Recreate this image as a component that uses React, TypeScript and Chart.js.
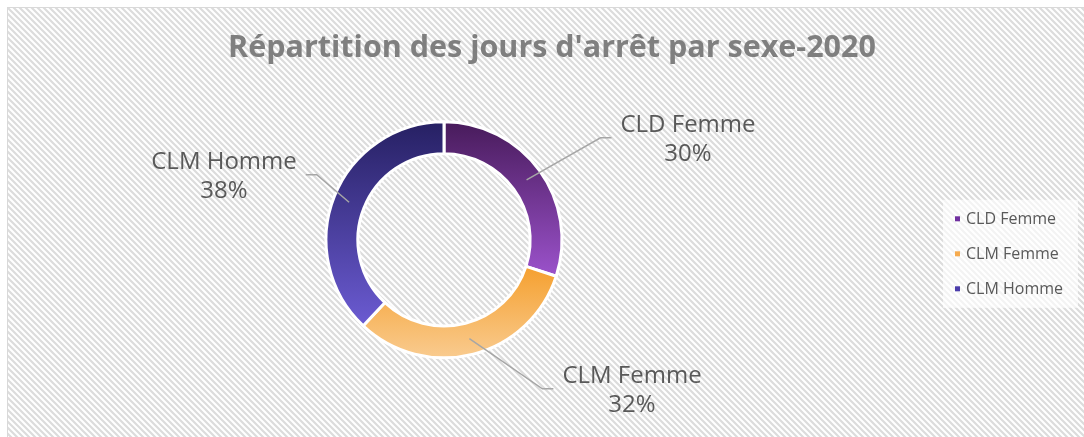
import React, { useEffect, useRef } from 'react';
import { Chart, registerables, layouts } from 'chart.js';

Chart.register(...registerables);

// ---------- data ----------
const TITLE = "Répartition des jours d'arrêt par sexe-2020";
const categories = ['CLD Femme', 'CLM Femme', 'CLM Homme'];
const shares = [30, 32, 38];

// ---------- styles ----------
const gradientTop = ['#481b5b', '#f5a02f', '#262063'];
const gradientBottom = ['#9b52cb', '#f9cb8f', '#6b5bd2'];
const legendColors = ['#7030a0', '#f6ab4f', '#4b3cab'];
const TEXT = '#595959';
const FONT = "'Open Sans', 'DejaVu Sans', sans-serif";

// label centre offset from the donut centre (placement, like Office's moved labels)
const labelOffsets: [number, number][] = [
  [244, -100],
  [188, 151],
  [-220, -63],
];

const LEGEND_WIDTH = 216;

let hatch: CanvasPattern | null = null;
function getHatch(ctx: CanvasRenderingContext2D) {
  if (hatch) return hatch;
  const t = document.createElement('canvas');
  t.width = 6;
  t.height = 6;
  const g = t.getContext('2d')!;
  g.fillStyle = '#ffffff';
  g.fillRect(0, 0, 6, 6);
  g.strokeStyle = '#dcdcdc';
  g.lineWidth = 2.2;
  g.beginPath();
  g.moveTo(-1, -1);
  g.lineTo(7, 7);
  g.moveTo(-1, 5);
  g.lineTo(1, 7);
  g.moveTo(5, -1);
  g.lineTo(7, 1);
  g.stroke();
  hatch = ctx.createPattern(t, 'repeat');
  return hatch;
}

const backgroundPlugin = {
  id: 'bgFrame',
  beforeDraw(chart: any) {
    const { ctx, width, height } = chart;
    ctx.save();
    ctx.fillStyle = '#ffffff';
    ctx.fillRect(0, 0, width, height);
    ctx.fillStyle = getHatch(ctx) as any;
    ctx.fillRect(7, 7, width - 7, height - 7);
    ctx.strokeStyle = '#d9d9d9';
    ctx.lineWidth = 1;
    ctx.beginPath();
    ctx.moveTo(7.5, height);
    ctx.lineTo(7.5, 7.5);
    ctx.lineTo(width, 7.5);
    ctx.stroke();
    ctx.restore();
  },
};

function arcGradient(c: any) {
  const i = c.dataIndex;
  if (i === undefined) return gradientTop[0];
  const chart = c.chart;
  const area = chart.chartArea;
  if (!area) return gradientTop[i];
  const ctrl: any = chart.getDatasetMeta(c.datasetIndex).controller;
  const R = ctrl.outerRadius || 118;
  const r = ctrl.innerRadius || 86;
  const cy = (area.top + area.bottom) / 2 + (ctrl.offsetY || 0);
  const data: number[] = c.dataset.data;
  const total = data.reduce((a, b) => a + b, 0);
  let before = 0;
  for (let k = 0; k < i; k++) before += data[k];
  const start = -Math.PI / 2 + (2 * Math.PI * before) / total;
  const end = start + (2 * Math.PI * data[i]) / total;
  let minY = Infinity;
  let maxY = -Infinity;
  for (let k = 0; k <= 90; k++) {
    const a = start + ((end - start) * k) / 90;
    for (const rad of [R, r]) {
      const y = cy + Math.sin(a) * rad;
      minY = Math.min(minY, y);
      maxY = Math.max(maxY, y);
    }
  }
  const g = chart.ctx.createLinearGradient(0, minY, 0, maxY);
  g.addColorStop(0, gradientTop[i]);
  g.addColorStop(1, gradientBottom[i]);
  return g;
}

const labelPlugin = {
  id: 'outLabels',
  afterDatasetsDraw(chart: any) {
    const { ctx } = chart;
    const meta = chart.getDatasetMeta(0);
    const data: number[] = chart.data.datasets[0].data;
    const total = data.reduce((a, b) => a + b, 0);
    ctx.save();
    ctx.font = `24px ${FONT}`;
    ctx.textAlign = 'center';
    ctx.textBaseline = 'middle';
    meta.data.forEach((arc: any, i: number) => {
      const p = arc.getProps(['x', 'y', 'startAngle', 'endAngle', 'innerRadius', 'outerRadius'], true);
      const mid = (p.startAngle + p.endAngle) / 2;
      const rm = (p.innerRadius + p.outerRadius) / 2;
      const ax = p.x + Math.cos(mid) * rm;
      const ay = p.y + Math.sin(mid) * rm;
      const lx = p.x + labelOffsets[i][0];
      const ly = p.y + labelOffsets[i][1];
      const name = chart.data.labels[i];
      const pct = Math.round((data[i] / total) * 100) + '%';
      const w = Math.max(ctx.measureText(name).width, ctx.measureText(pct).width);
      const right = labelOffsets[i][0] > 0;
      const endX = right ? lx - w / 2 - 9 : lx + w / 2 + 9;
      const elbowX = right ? endX - 11 : endX + 11;
      const lineY = ly - 2;
      ctx.strokeStyle = '#a6a6a6';
      ctx.lineWidth = 1.5;
      ctx.beginPath();
      ctx.moveTo(ax, ay);
      ctx.lineTo(elbowX, lineY);
      ctx.lineTo(endX, lineY);
      ctx.stroke();
      ctx.fillStyle = TEXT;
      ctx.fillText(name, lx, ly - 14.5);
      ctx.fillText(pct, lx, ly + 14.5);
    });
    ctx.restore();
  },
};

const legendBoxPlugin = {
  id: 'sideLegend',
  beforeInit(chart: any) {
    const box: any = {
      position: 'right',
      weight: 0,
      fullSize: false,
      options: { display: true },
      left: 0,
      top: 0,
      right: 0,
      bottom: 0,
      width: 0,
      height: 0,
      isHorizontal() {
        return false;
      },
      update(maxWidth: number, maxHeight: number) {
        this.width = LEGEND_WIDTH;
        this.height = maxHeight;
        return { width: this.width, height: this.height };
      },
      draw() {
        const ctx = chart.ctx;
        const area = chart.chartArea;
        const cy = (area.top + area.bottom) / 2;
        const x0 = this.left + 75;
        ctx.save();
        ctx.fillStyle = 'rgba(255,255,255,0.65)';
        ctx.fillRect(x0, cy - 40, this.right - 6 - x0, 108);
        ctx.font = `16px ${FONT}`;
        ctx.textAlign = 'left';
        ctx.textBaseline = 'middle';
        const labels: string[] = chart.data.labels;
        labels.forEach((lab, i) => {
          const y = cy - 21 + i * 35;
          ctx.fillStyle = legendColors[i];
          ctx.fillRect(x0 + 12, y - 2.5, 5, 5);
          ctx.fillStyle = TEXT;
          ctx.fillText(lab, x0 + 23, y + 1);
        });
        ctx.restore();
      },
    };
    layouts.addBox(chart, box);
  },
};

export default function App() {
  const ref = useRef<HTMLCanvasElement>(null);
  useEffect(() => {
    hatch = null;
    const chart = new Chart(ref.current!, {
      type: 'doughnut',
      data: {
        labels: categories,
        datasets: [
          {
            data: shares,
            backgroundColor: arcGradient as any,
            borderColor: '#ffffff',
            borderWidth: 3,
          },
        ],
      },
      options: {
        responsive: false,
        animation: false,
        devicePixelRatio: 1,
        cutout: '73%',
        radius: 118,
        layout: { padding: { left: 20, right: 0, top: 0, bottom: 32 } },
        plugins: {
          legend: { display: false },
          tooltip: { enabled: false },
          title: {
            display: true,
            text: TITLE,
            color: '#7f7f7f',
            font: { family: FONT, size: 30.5, weight: 'bold', lineHeight: 1.2 },
            padding: { top: 30, bottom: 8 },
          },
        },
      } as any,
      plugins: [backgroundPlugin, legendBoxPlugin, labelPlugin],
    });
    return () => chart.destroy();
  }, []);
  return (
    <div style={{ position: 'absolute', left: 0, top: 0, width: 1084, height: 437 }}>
      <canvas ref={ref} width={1084} height={437} style={{ display: 'block' }} />
    </div>
  );
}
